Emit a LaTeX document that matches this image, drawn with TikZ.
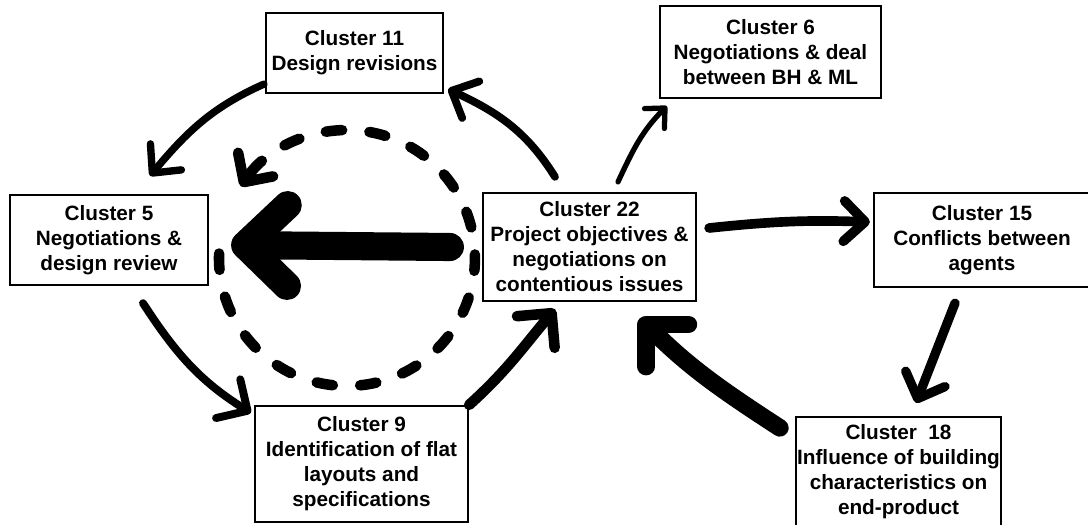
\documentclass[tikz,border=0pt]{standalone}
\usepackage{fontspec}
\setmainfont{Liberation Sans}
\usepackage{tikz}
\usetikzlibrary{arrows.meta, calc}

\begin{document}
\begin{tikzpicture}[x=0.02cm, y=0.02cm,
        cluster/.style={draw, line width=1.3pt, align=center, inner sep=0pt,
            font=\fontsize{11.8}{14.2}\selectfont\bfseries},
        link/.style={line cap=round, line join=round}]
    \useasboundingbox (0, 0) rectangle (1088, -524);

    \node[cluster, minimum width=3.54cm, minimum height=1.6cm] at (354.5, -53) (c11) {Cluster 11\\Design revisions};
    \node[cluster, minimum width=4.42cm, minimum height=1.84cm] at (770.5, -52) (c6) {Cluster 6\\Negotiations \& deal\\between BH \& ML};
    \node[cluster, minimum width=3.96cm, minimum height=1.8cm] at (109, -240) (c5) {Cluster 5\\Negotiations \&\\design review};
    \node[cluster, minimum width=4.26cm, minimum height=2.16cm] at (589.5, -247) (c22) {Cluster 22\\Project objectives \&\\negotiations on\\contentious issues};
    \node[cluster, minimum width=4.32cm, minimum height=1.88cm] at (982, -240) (c15) {Cluster 15\\Conflicts between\\agents};
    \node[cluster, minimum width=4.26cm, minimum height=2.32cm] at (361.5, -464) (c9) {Cluster 9\\Identification of flat\\layouts and\\specifications};
    \node[cluster, minimum width=4.1cm, minimum height=2.2cm] at (898.5, -472) (c18) {Cluster~~18\\Influence of building\\characteristics on\\end-product};

    % dashed loop round the main arrow
    \coordinate (hub) at (347, -258);
    \draw[link, line width=6pt, dash pattern=on 9.3pt off 15.6pt, -{Straight Barb[round, length=12pt, width=24pt]}]
        ($(hub)+(178:128)$) arc[start angle=178, end angle=506, radius=2.56cm];

    \draw[link, line width=16pt, -{Straight Barb[round, length=24pt, width=46pt]}] ($(c22.west)+(-32, 0)$) -- ($(c5.east)+(22, -5)$);
    \draw[link, line width=4.2pt, -{Straight Barb[round, length=12pt, width=23pt]}] ($(c11.south west)+(-1, 10)$) to[out=204, in=50] ($(c5.north)+(41, 18)$);
    \draw[link, line width=4.4pt, -{Straight Barb[round, length=12pt, width=23pt]}] ($(c22.north)+(-34.5, 15)$) to[out=122, in=-25] ($(c11.south east)+(4, 5)$);
    \draw[link, line width=3pt, -{Straight Barb[round, length=8.5pt, width=16pt]}] ($(c22.north)+(28.5, 10)$) to[out=65, in=225] ($(c6.south west)+(8, -7)$);
    \draw[link, line width=5.5pt, -{Straight Barb[round, length=12pt, width=23pt]}] ($(c22.east)+(12, 19)$) to[out=6, in=178] ($(c15.west)+(-3, 18)$);
    \draw[link, line width=5.3pt, -{Straight Barb[round, length=12pt, width=24pt]}] ($(c15.south)+(-27, -15)$) -- ($(c18.north)+(17.5, 13)$);
    \draw[link, line width=10pt, -{Straight Barb[round, length=17pt, width=34pt]}] ($(c18.north west)+(-15, -12)$) to[out=147, in=-45] ($(c22.south)+(50.5, -16)$);
    \draw[link, line width=6pt, -{Straight Barb[round, length=14pt, width=28pt]}] (c9.north east) to[out=42, in=230] ($(c22.south)+(-34.5, -7)$);
    \draw[link, line width=4.5pt, -{Straight Barb[round, length=13pt, width=26pt]}] ($(c5.south)+(34, -17)$) to[out=-57, in=148] ($(c9.north west)+(-3, -8)$);
\end{tikzpicture}
\end{document}
